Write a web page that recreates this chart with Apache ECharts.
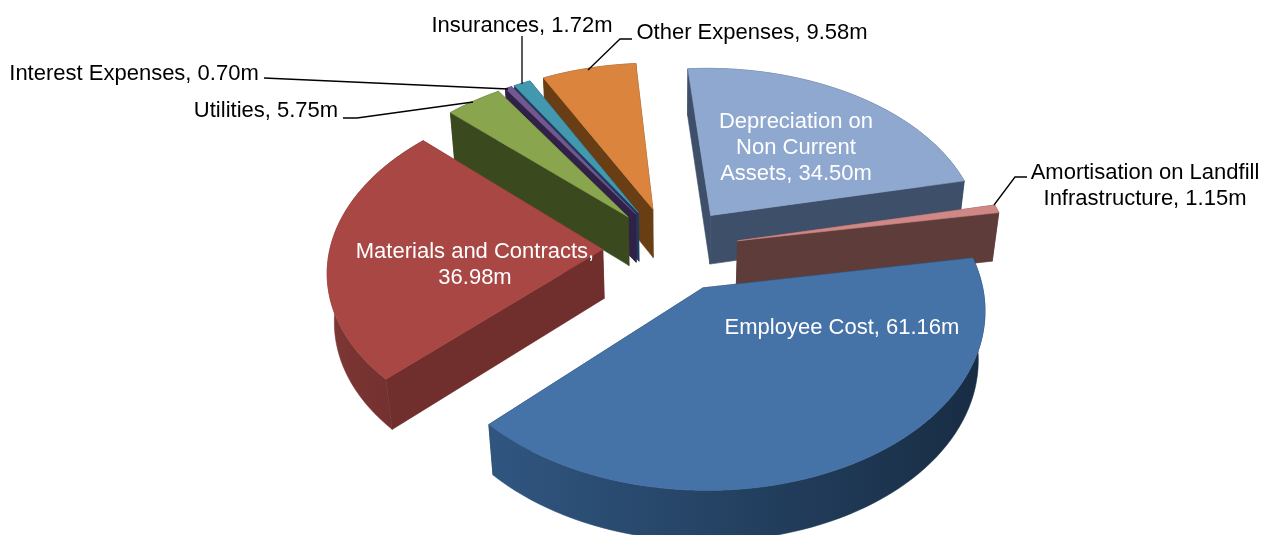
<!DOCTYPE html>
<html>
<head>
<meta charset="utf-8">
<style>html,body{margin:0;padding:0;background:#fff}#chart{width:1268px;height:535px}</style>
<script src="https://cdn.jsdelivr.net/npm/echarts@6/dist/echarts.min.js"></script>
</head>
<body>
<div id="chart"></div>
<script>
// Expense breakdown, clockwise from the depreciation slice (values in millions)
const categories = ['Depreciation on\nNon Current\nAssets', 'Amortisation on Landfill\nInfrastructure', 'Employee Cost',
  'Materials and Contracts', 'Utilities', 'Interest Expenses', 'Insurances', 'Other Expenses'];
const values = [34.50, 1.15, 61.16, 36.98, 5.75, 0.70, 1.72, 9.58];
const separators = [', ', ', ', ', ', ',\n', ', ', ', ', ', ', ', '];

// Surface colours per slice
const topColors = ['#8FA8CF', '#D08886', '#4572A7', '#A84744', '#89A54E', '#71588F', '#4198AF', '#DB843D'];
const wallColors = ['#3E4F69', '#5E3C39', '#1B3049', '#702E2C', '#3B4A1E', '#2F2147', '#1F3A5C', '#6A3E15'];
const arcFrom = ['#3E4F69', '#5E3C39', '#305680', '#7E3735', '#3B4A1E', '#2F2147', '#1F3A5C', '#6A3E15'];
const arcTo = ['#3E4F69', '#5E3C39', '#182C43', '#6C2D2B', '#3B4A1E', '#2F2147', '#1F3A5C', '#6A3E15'];
const labelColors = ['#fff', '#000', '#fff', '#fff', '#000', '#000', '#000', '#000'];

// Label anchors (block centre x, y) and leader polylines
const labelAnchors = [[796, 148], [1145, 186], [842, 328], [475, 265], [266, 111], [134, 74], [522, 26], [752, 33]];
const leaders = [null, [[1027, 177], [1015, 177], [994, 205]], null, null,
  [[343, 118], [357, 118], [473, 102]], [[264, 78], [508, 89]], [[522, 36], [522, 84]], [[632, 39], [620, 39], [588, 70]]];

// Depth rank per slice: larger ranks are painted later
const paintOrder = [5, 6, 7, 4, 3, 2, 1, 0];

// Camera and pie geometry (unit radius)
const view = { cx: 671, cy: 249, focal: 1910, dist: 7, sinT: 0.625, cosT: 0.78 };
const pie = { start: -4.5, thickness: 0.235, explode: 0.25 };

const total = values.reduce((a, b) => a + b, 0);
const spans = [];
values.reduce((acc, v) => {
  const sweep = v / total * 360;
  spans.push([acc, acc + sweep]);
  return acc + sweep;
}, pie.start);

function project(x, y, z) {
  const w = view.dist + y * view.cosT - z * view.sinT;
  const s = view.focal / w;
  return [view.cx + x * s, view.cy - (y * view.sinT + z * view.cosT) * s];
}

function renderSlice(params, api) {
  const i = api.value(0);
  const [a0, a1] = spans[i];
  const rad = d => d * Math.PI / 180;
  const mid = rad((a0 + a1) / 2);
  const ox = Math.sin(mid) * pie.explode;
  const oy = Math.cos(mid) * pie.explode;
  const steps = Math.max(4, Math.ceil((a1 - a0) / 2));
  const topArc = [], lowArc = [];
  for (let k = 0; k <= steps; k++) {
    const a = rad(a0 + (a1 - a0) * k / steps);
    const x = ox + Math.sin(a), y = oy + Math.cos(a);
    topArc.push(project(x, y, 0));
    lowArc.push(project(x, y, -pie.thickness));
  }
  const apexTop = project(ox, oy, 0);
  const apexLow = project(ox, oy, -pie.thickness);
  const n = steps;
  const z = paintOrder[i] * 10;
  const poly = (points, fill, z2) => ({
    type: 'polygon', z2: z + z2, shape: { points },
    style: { fill, stroke: fill, lineWidth: 0.6 }
  });
  const arcFill = {
    type: 'linear', x: 0, y: 0, x2: 1, y2: 0,
    colorStops: [{ offset: 0, color: arcFrom[i] }, { offset: 1, color: arcTo[i] }]
  };
  const children = [
    poly([apexTop, topArc[0], lowArc[0], apexLow], wallColors[i], 1),
    poly([apexTop, topArc[n], lowArc[n], apexLow], wallColors[i], 2),
    poly(topArc.concat(lowArc.slice().reverse()), arcFill, 3),
    poly([apexTop].concat(topArc), topColors[i], 4)
  ];
  if (leaders[i]) {
    children.push({
      type: 'polyline', z2: 200, shape: { points: leaders[i] },
      style: { fill: null, stroke: '#000', lineWidth: 1.3 }
    });
  }
  children.push({
    type: 'text', z2: 300,
    x: labelAnchors[i][0], y: labelAnchors[i][1],
    style: {
      text: categories[i] + separators[i] + values[i].toFixed(2) + 'm',
      fill: labelColors[i],
      font: '22px "Liberation Sans", Arial, sans-serif',
      align: 'center', verticalAlign: 'middle', lineHeight: 26
    }
  });
  return { type: 'group', children };
}

const chart = echarts.init(document.getElementById('chart'), null, { renderer: 'canvas' });
chart.setOption({
  animation: false,
  backgroundColor: '#fff',
  series: [{
    type: 'custom',
    coordinateSystem: 'none',
    renderItem: renderSlice,
    data: values.map((v, i) => [i, v])
  }]
});
</script>
</body>
</html>
